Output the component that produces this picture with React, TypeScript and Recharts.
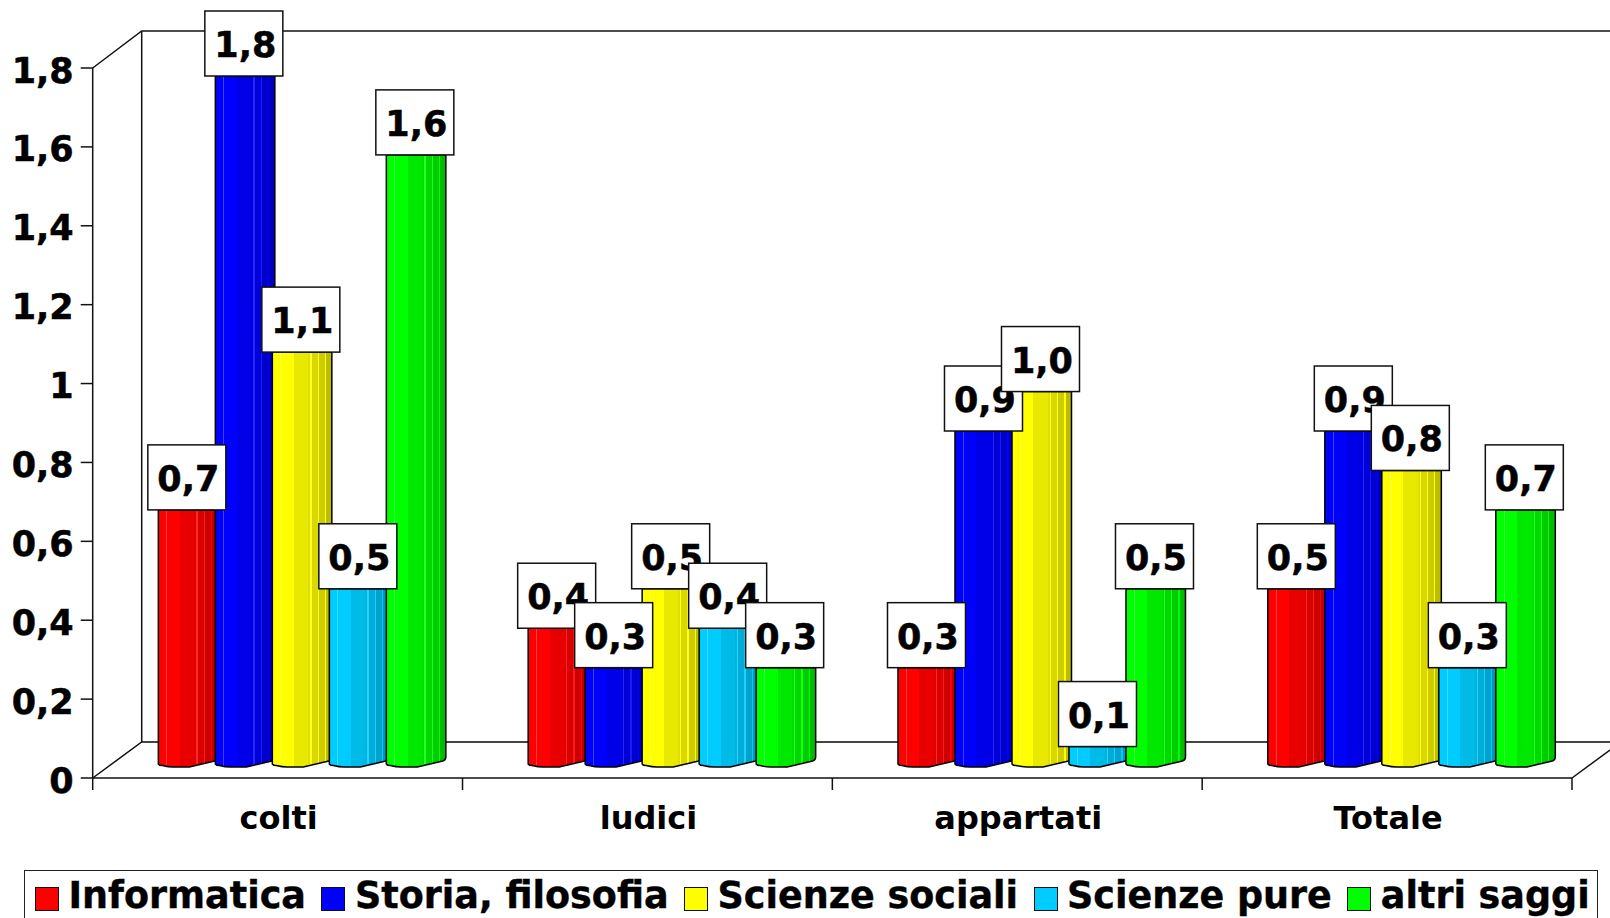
import { BarChart, Bar, XAxis, YAxis, Legend, LabelList } from 'recharts';

const categories = ['colti', 'ludici', 'appartati', 'Totale'];
const seriesNames = ['Informatica', 'Storia, filosofia', 'Scienze sociali', 'Scienze pure', 'altri saggi'];
const informatica = [0.7, 0.4, 0.3, 0.5];
const storia = [1.8, 0.3, 0.9, 0.9];
const sociali = [1.1, 0.5, 1.0, 0.8];
const pure = [0.5, 0.4, 0.1, 0.3];
const altri = [1.6, 0.3, 0.5, 0.7];
const yTicks = [0, 0.2, 0.4, 0.6, 0.8, 1, 1.2, 1.4, 1.6, 1.8];
const colors = ['#FF0000', '#0000FF', '#FFFF00', '#00CCFF', '#00FF00'];

const seriesValues = [informatica, storia, sociali, pure, altri];
const keys = ['s0', 's1', 's2', 's3', 's4'];
const data = categories.map((name, i) => {
  const row: Record<string, string | number> = { name };
  keys.forEach((k, j) => (row[k] = seriesValues[j][i]));
  return row;
});

const FONT = '"DejaVu Sans", Verdana, sans-serif';
const WIDTH = 1610;
const HEIGHT = 918;
const LEFT = 92.7;
const RIGHT = 1572;
const TOP = 68;
const FLOOR = 778;
const BACK_X = 141.7;
const BACK_TOP = 31;
const BACK_FLOOR = 742;
const BAND = (RIGHT - LEFT) / categories.length;
// bars stand on the 3D floor, behind the front plane
const DEPTH_X = 23.5;
const TOP_SHIFT = 8;
const BASE_SHIFT = 11;

// cylinder look: hard colour steps, [from, to, shade]
const stripes: [number, number, number][] = [
  [0, 0.13, 1], [0.13, 0.15, 1.25], [0.15, 0.36, 1], [0.36, 0.6, 0.91], [0.6, 0.64, 0.88],
  [0.64, 0.66, 1.15], [0.66, 0.76, 0.85], [0.76, 0.78, 1.1], [0.78, 0.88, 0.8], [0.88, 0.9, 1],
  [0.9, 1, 0.74],
];

function shade(hex: string, k: number) {
  const c = [1, 3, 5].map((i) => parseInt(hex.slice(i, i + 2), 16));
  const out = c.map((v) => (k <= 1 ? v * k : v + (255 - v) * (k - 1)));
  return `rgb(${out.map(Math.round).join(',')})`;
}

function CylinderBar(props: any) {
  const { x, y, width, height, index2 } = props;
  if (height == null) return null;
  const w = width + 2.5;
  const l = x + DEPTH_X - 1.5;
  const r = l + w;
  const t = y + TOP_SHIFT;
  const b = y + height - BASE_SHIFT;
  const d = `M${l},${t} L${l},${b - 3} Q${l + 1},${b - 1.5} ${l + 4},${b - 1.5} Q${l + 10},${b} ${l + w * 0.25},${b}
    L${l + w * 0.52},${b} L${r - 3},${b - 6} Q${r},${b - 7} ${r},${b - 10} L${r},${t} Z`;
  return <path d={d} fill={`url(#cyl${index2})`} stroke="#000" strokeWidth={1.5} strokeLinejoin="round" />;
}

function ValueBox(props: any) {
  const { x, y, width, value } = props;
  const cx = x + DEPTH_X + width / 2 - 1.5;
  const bottom = y + TOP_SHIFT;
  return (
    <g>
      <rect x={cx - 39} y={bottom - 65} width={78} height={65} fill="#fff" stroke="#111" strokeWidth={1.5} />
      <text x={cx + 1.5} y={bottom - 19} textAnchor="middle" fontFamily={FONT} fontWeight="bold" fontSize={35} stroke="#000" strokeWidth={0.5} fill="#000">
        {Number(value).toFixed(1).replace('.', ',')}
      </text>
    </g>
  );
}

function YTick(props: any) {
  const { x, y, payload } = props;
  return (
    <text x={x} y={y + 14.5} textAnchor="end" fontFamily={FONT} fontWeight="bold" fontSize={35} stroke="#000" strokeWidth={0.5} fill="#000">
      {String(payload.value).replace('.', ',')}
    </text>
  );
}

function XTick(props: any) {
  const { x, y, payload, index } = props;
  const edge = x - BAND / 2;
  return (
    <g>
      <line x1={edge} x2={edge} y1={FLOOR} y2={FLOOR + 12} stroke="#111" strokeWidth={1.5} />
      {index === categories.length - 1 && (
        <line x1={edge + BAND} x2={edge + BAND} y1={FLOOR} y2={FLOOR + 12} stroke="#111" strokeWidth={1.5} />
      )}
      <text x={x + 1} y={y + 43} textAnchor="middle" fontFamily={FONT} fontWeight="bold" fontSize={32} fill="#000">
        {payload.value}
      </text>
    </g>
  );
}

function LegendBox({ payload }: any) {
  const items = (payload || []).filter((p: any) => p.type !== 'none');
  return (
    <div
      style={{
        boxSizing: 'border-box',
        width: 1574,
        height: 48,
        border: '1.5px solid #222',
        borderBottom: 'none',
        background: '#fff',
        display: 'flex',
        alignItems: 'flex-start',
        paddingLeft: 10,
        fontFamily: FONT,
        fontWeight: 'bold',
        fontSize: 36.5,
        lineHeight: '50px',
        color: '#000',
        whiteSpace: 'nowrap',
        WebkitTextStroke: '0.4px #000',
      }}
    >
      {items.map((p: any) => (
        <div key={p.value} style={{ display: 'flex', alignItems: 'flex-start', marginRight: 15.5 }}>
          <span
            style={{
              boxSizing: 'border-box',
              display: 'inline-block',
              width: 24,
              height: 24,
              marginTop: 16,
              marginRight: 9.5,
              background: p.color,
              border: '1.5px solid #111',
            }}
          />
          <span style={{ height: 46 }}>{p.value}</span>
        </div>
      ))}
    </div>
  );
}

export default function App() {
  return (
    <div style={{ position: 'absolute', left: 0, top: 0, width: WIDTH, height: HEIGHT, overflow: 'hidden', background: '#fff' }}>
      <BarChart
        width={WIDTH}
        height={HEIGHT}
        data={data}
        barCategoryGap="11.8%"
        barGap={0}
        margin={{ top: TOP, right: WIDTH - RIGHT, bottom: 0, left: 0 }}
        style={{ overflow: 'visible' }}
      >
        <defs>
          {colors.map((c, i) => (
            <linearGradient key={c} id={`cyl${i}`} x1="0" x2="1" y1="0" y2="0">
              {stripes.flatMap(([from, to, k]) => [
                <stop key={`${from}a`} offset={from} stopColor={shade(c, k)} />,
                <stop key={`${from}b`} offset={to} stopColor={shade(c, k)} />,
              ])}
            </linearGradient>
          ))}
        </defs>
        <g stroke="#111" strokeWidth={1.5} fill="none">
          <polyline points={`${LEFT},${TOP} ${BACK_X},${BACK_TOP} ${WIDTH},${BACK_TOP}`} />
          <line x1={BACK_X} x2={BACK_X} y1={BACK_TOP} y2={BACK_FLOOR} />
          <polyline points={`${LEFT},${FLOOR} ${BACK_X},${BACK_FLOOR} ${WIDTH},${BACK_FLOOR}`} />
          <line x1={RIGHT} x2={WIDTH} y1={FLOOR} y2={FLOOR - 28} />
        </g>
        <XAxis
          dataKey="name"
          height={HEIGHT - FLOOR}
          axisLine={{ stroke: '#111', strokeWidth: 1.5 }}
          tickLine={false}
          tick={<XTick />}
          interval={0}
        />
        <XAxis xAxisId="labels" dataKey="name" hide />
        <YAxis
          width={LEFT}
          domain={[0, 1.8]}
          ticks={yTicks}
          interval={0}
          axisLine={{ stroke: '#111', strokeWidth: 1.5 }}
          tickLine={{ stroke: '#111', strokeWidth: 1.5 }}
          tickSize={12}
          tickMargin={7}
          tick={<YTick />}
        />
        {keys.map((k, i) => (
          <Bar
            key={k}
            dataKey={k}
            name={seriesNames[i]}
            fill={colors[i]}
            isAnimationActive={false}
            shape={(p: any) => <CylinderBar {...p} index2={i} />}
          />
        ))}
        {/* the back floor line shows faintly through the bars */}
        <line x1={BACK_X} x2={WIDTH} y1={BACK_FLOOR} y2={BACK_FLOOR} stroke="#000" strokeOpacity={0.12} strokeWidth={1.5} />
        {keys.map((k) => (
          <Bar key={k} xAxisId="labels" dataKey={k} legendType="none" fill="none" isAnimationActive={false} shape={() => <g />}>
            <LabelList dataKey={k} content={<ValueBox />} />
          </Bar>
        ))}
        <Legend
          layout="horizontal"
          verticalAlign="middle"
          align="center"
          itemSorter={null}
          content={<LegendBox />}
          wrapperStyle={{ position: 'absolute', left: 24, top: 870, width: 1574, margin: 0 }}
        />
      </BarChart>
    </div>
  );
}
